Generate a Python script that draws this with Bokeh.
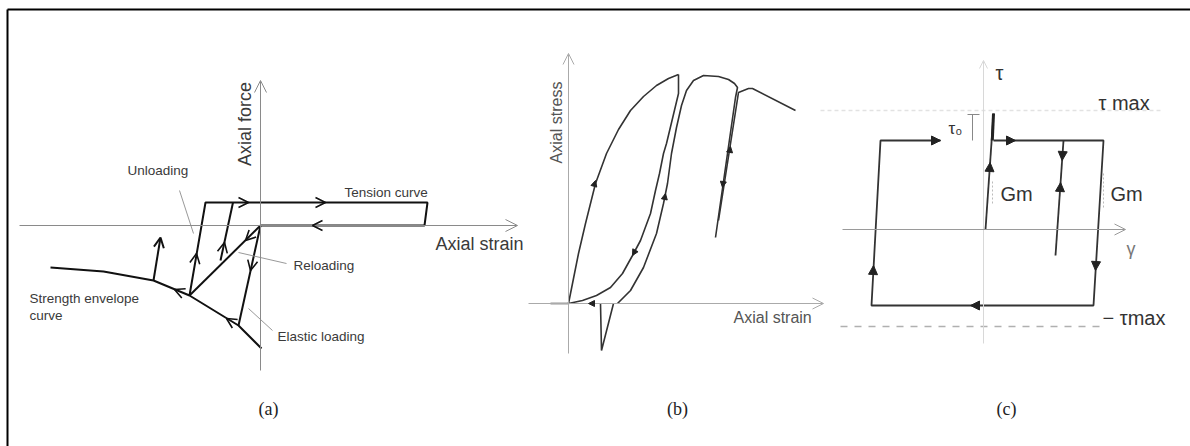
import math
from bokeh.plotting import figure
from bokeh.models import Range1d, Arrow, OpenHead, NormalHead
from bokeh.core.properties import value
from bokeh.embed import file_html
from bokeh.resources import INLINE

# ---------------- Panel (a): axial force vs axial strain (local units, origin at axes crossing, y up)
A_ENV_X = [-210, -157, -107, -71, -22, 1]
A_ENV_Y = [-42, -46, -55, -70, -100, -123]
A_TENSION_X = [-71, -55, 167, 164, 0]
A_TENSION_Y = [-70, 23, 23, 0, 0]
A_RELOAD_X = [-71, 0]
A_RELOAD_Y = [-70, 0]
A_ELASTIC_X = [-22, 0]
A_ELASTIC_Y = [-100, 0]
A_UNLOAD2_X = [-40, -27.5]
A_UNLOAD2_Y = [-35, 23]
A_PUSH = (-107, -55, -100, -12)
A_HEADS = [(-12, 23, 1, 0), (65, 23, 1, 0), (52, 0, -1, 0), (-64, -28, 16, 93),
           (-36, -17, 12.5, 58), (-15, -15, -71, -70), (-10, -45, -22, -100),
           (-86, -64, -36, 15), (-34, -93, -48, 30)]
A_LABELS = ["Unloading", "Tension curve", "Reloading", "Strength envelope", "curve", "Elastic loading"]
A_LABEL_X = [-133, 84, 33, -231, -231, 17]
A_LABEL_Y = [55, 33, -40, -73, -90, -111]
A_LEADERS = [(-81, 35, -67, -8), (26, -38, -22, -27), (12, -105, -12, -83)]

# ---------------- Panel (b): axial stress vs axial strain
B_LOAD_X = [0, 5, 10, 17, 27, 38, 50, 62, 75, 88, 100, 110]
B_LOAD_Y = [0, 25, 50, 80, 120, 150, 174, 193, 207, 218, 225, 229]
B_UNLOAD_X = [110, 110, 104, 98, 95, 91, 87, 82, 72, 64, 54, 42, 28, 14, 0, -18]
B_UNLOAD_Y = [229, 210, 185, 160, 150, 130, 113, 90, 63, 48, 30, 16, 8, 3, 0, 0]
B_RELOAD_X = [49, 62, 75, 88, 95, 99, 103, 108, 113, 118, 125, 135, 150, 160, 166, 169, 167, 147]
B_RELOAD_Y = [0, 13, 36, 70, 100, 120, 150, 176, 198, 213, 223, 228, 227, 224, 220, 216, 206, 66]
B_TAIL_X = [150, 170, 180, 184, 227]
B_TAIL_Y = [83, 211, 215, 215, 193]
B_SPIKE_X = [32, 33, 45]
B_SPIKE_Y = [0, -47, 0]
B_HEADS = [(27, 123, 1, 3.5), (64, 48, -1, -1.8), (97, 110, 1, 5), (20, 0, -1, 0),
           (154, 116, -20, -140), (162, 157, 20, 128)]

# ---------------- Panel (c): tau vs gamma
C_RECT_X = [10, 120, 110, -112, -103, -43]
C_RECT_Y = [89, 89, -76, -76, 89, 89]
C_GM1_X = [2, 10]
C_GM1_Y = [0, 116]
C_GM1_TOP_X = [8.8, 10]
C_GM1_TOP_Y = [89, 116]
C_GM2_X = [80, 72]
C_GM2_Y = [89, -26]
C_HEADS = [(-43, 89, 1, 0), (32, 89, 1, 0), (-13, -76, -1, 0), (-110, -36, 9, 165),
           (112, -41, -10, -165), (6.6, 67, 8, 116), (78.6, 69, -8, -115), (77.1, 47, 8, 115)]
C_TAU_MAX = 119
C_NEG_TAU_MAX = -97

CAPTIONS = ["(a)", "(b)", "(c)"]

W, H = 1190, 446
# panel origins (page pixels, y measured from top)
ORIGINS = {"a": (260, 225), "b": (568, 303), "c": (983, 229)}

p = figure(width=W, height=H, x_range=Range1d(0, W), y_range=Range1d(0, H),
           output_backend="svg", toolbar_location=None, x_axis_type=None, y_axis_type=None,
           min_border=0)
p.outline_line_color = None
p.background_fill_color = "white"
p.border_fill_color = "white"


def TX(k, xs):
    return [ORIGINS[k][0] + v for v in xs]


def TY(k, ys):
    return [H - ORIGINS[k][1] + v for v in ys]


def line(k, xs, ys, **kw):
    p.line(TX(k, xs), TY(k, ys), **kw)


def head(k, x, y, dx, dy, kind, size, color, lw=1.5):
    n = math.hypot(dx, dy)
    ux, uy = dx / n, dy / n
    if kind == "open":
        h = OpenHead(size=size, line_color=color, line_width=lw)
    else:
        h = NormalHead(size=size, line_color=color, fill_color=color, line_width=1)
    X, Y = TX(k, [x])[0], TY(k, [y])[0]
    p.add_layout(Arrow(end=h, x_start=X - ux * 2, y_start=Y - uy * 2, x_end=X, y_end=Y,
                       line_alpha=0))


def arrow(k, xs, ys, xe, ye, color, size=11, lw=1):
    p.add_layout(Arrow(end=OpenHead(size=size, line_color=color, line_width=lw),
                       x_start=TX(k, [xs])[0], y_start=TY(k, [ys])[0],
                       x_end=TX(k, [xe])[0], y_end=TY(k, [ye])[0],
                       line_color=color, line_width=lw))


def txt(k, x, y, t, size, color="#333", font="Liberation Sans", align="left", angle=0.0):
    p.text(x=TX(k, x), y=TY(k, y), text=t, text_font=value(font), text_font_size=value(size),
           text_color=color, text_align=align, text_baseline="middle", angle=angle)


# ---- frame
p.line([7, 7], [0, H - 9], line_color="black", line_width=2)
p.line([7, W], [H - 9, H - 9], line_color="black", line_width=2)

# ================= Panel A
arrow("a", -241, 0, 257, 0, "#8a8a8a", size=12)
arrow("a", 0, -145, 0, 145, "#8a8a8a", size=12)
for xs, ys in [(A_ENV_X, A_ENV_Y), (A_TENSION_X, A_TENSION_Y), (A_RELOAD_X, A_RELOAD_Y),
               (A_ELASTIC_X, A_ELASTIC_Y), (A_UNLOAD2_X, A_UNLOAD2_Y)]:
    line("a", xs, ys, line_color="#111", line_width=2)
arrow("a", A_PUSH[0], A_PUSH[1], A_PUSH[2], A_PUSH[3], "#111", size=10, lw=2)
for (x, y, dx, dy) in A_HEADS:
    head("a", x, y, dx, dy, "open", 10, "#111", 1.6)
for (x0, y0, x1, y1) in A_LEADERS:
    line("a", [x0, x1], [y0, y1], line_color="#999", line_width=1)
txt("a", A_LABEL_X, A_LABEL_Y, A_LABELS, "13.5px", "#3a3a3a")
txt("a", [175], [-18], ["Axial strain"], "18px", "#3a3a3a")
txt("a", [-15.5], [101.5], ["Axial force"], "18px", "#3a3a3a", align="center", angle=math.pi / 2)
txt("a", [8], [-183], [CAPTIONS[0]], "18px", "#222", font="Liberation Serif", align="center")

# ================= Panel B
arrow("b", -40, 0, 255, 0, "#aaa", size=11)
arrow("b", 0, -50, 0, 250, "#aaa", size=11)
for xs, ys in [(B_LOAD_X, B_LOAD_Y), (B_UNLOAD_X, B_UNLOAD_Y), (B_RELOAD_X, B_RELOAD_Y),
               (B_TAIL_X, B_TAIL_Y), (B_SPIKE_X, B_SPIKE_Y)]:
    line("b", xs, ys, line_color="#333", line_width=1.6)
for (x, y, dx, dy) in B_HEADS:
    head("b", x, y, dx, dy, "filled", 6, "#222")
txt("b", [-12], [181], ["Axial stress"], "16px", "#555", align="center", angle=math.pi / 2)
txt("b", [165], [-14], ["Axial strain"], "16px", "#555")
txt("b", [109], [-105], [CAPTIONS[1]], "18px", "#222", font="Liberation Serif", align="center")

# ================= Panel C
line("c", [-163, 177], [C_TAU_MAX, C_TAU_MAX], line_color="#e2e2e2", line_width=1.5, line_dash="4 3")
line("c", [-143, 117], [C_NEG_TAU_MAX, C_NEG_TAU_MAX], line_color="#b0b0b0", line_width=1.5, line_dash="7 7")
arrow("c", 0, -114, 0, 169, "#d8d8d8", size=8)
arrow("c", -141, 0, 142, 0, "#9a9a9a", size=11)
line("c", C_RECT_X, C_RECT_Y, line_color="#333", line_width=1.8)
line("c", C_GM1_X, C_GM1_Y, line_color="#333", line_width=1.8)
line("c", C_GM1_TOP_X, C_GM1_TOP_Y, line_color="#222", line_width=3)
line("c", C_GM2_X, C_GM2_Y, line_color="#333", line_width=1.8)
line("c", [9, 9], [26, 49], line_color="#bbb", line_width=1, line_dash="2 2")
line("c", [120, 120], [22, 56], line_color="#bbb", line_width=1, line_dash="2 2")
line("c", [-11, -11], [89, 115], line_color="#888", line_width=1)
line("c", [-16, -4], [115, 115], line_color="#888", line_width=1)
for (x, y, dx, dy) in C_HEADS:
    head("c", x, y, dx, dy, "filled", 9, "#222")
txt("c", [12], [157], ["τ"], "20px", "#333")
txt("c", [115], [127], ["τ max"], "20px", "#333")
txt("c", [-35], [101], ["τ₀"], "17px", "#333")
txt("c", [17, 127], [36, 36], ["Gm", "Gm"], "20px", "#333")
txt("c", [143], [-19], ["γ"], "18px", "#777")
txt("c", [119], [-88], ["− τmax"], "20px", "#333")
txt("c", [23], [-179], [CAPTIONS[2]], "18px", "#222", font="Liberation Serif", align="center")

open("out.html", "w").write(file_html(p, INLINE))
